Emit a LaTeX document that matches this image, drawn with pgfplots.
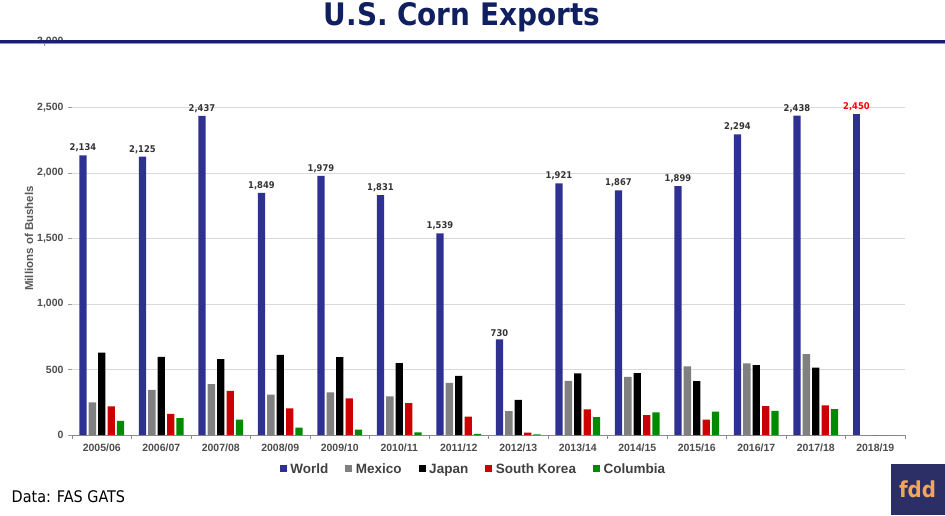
\documentclass[border=0pt]{standalone}
\usepackage{pgfplots}
\pgfplotsset{compat=1.18}
\usepackage{pgfplotstable}
\usepackage{fontspec}
\setmainfont{Liberation Sans}
\newfontfamily\tahoma{DejaVu Sans Condensed}
\definecolor{worldc}{HTML}{2F3192}
\definecolor{mexc}{HTML}{808080}
\definecolor{japc}{HTML}{000000}
\definecolor{korc}{HTML}{CC0000}
\definecolor{colc}{HTML}{008A00}
\definecolor{titlec}{HTML}{0F1F5F}
\definecolor{navyline}{HTML}{1A1F6E}
\definecolor{lightline}{HTML}{8A90C8}
\definecolor{tickc}{HTML}{595959}
\definecolor{legc}{HTML}{404040}
\definecolor{labc}{HTML}{333333}
\definecolor{logobg}{HTML}{2C2E66}
\definecolor{logofg}{HTML}{F2A65A}
\definecolor{gridc}{HTML}{D9D9D9}

\pgfplotstableread{
idx label World Mexico Japan SKorea Colombia
0 2005/06 2134 250 628 219 107
1 2006/07 2125 344 597 161 128
2 2007/08 2437 388 579 337 117
3 2008/09 1849 309 612 204 56
4 2009/10 1979 325 594 279 41
5 2010/11 1831 294 548 244 20
6 2011/12 1539 398 452 140 8
7 2012/13 730 183 269 18 5
8 2013/14 1921 414 470 195 137
9 2014/15 1867 444 472 152 173
10 2015/16 1899 523 411 117 178
11 2016/17 2294 546 533 221 185
12 2017/18 2438 617 515 226 198
13 2018/19 2450 0 0 0 0
}\datatable

\begin{document}
\begin{tikzpicture}
\useasboundingbox (0,0) rectangle (945pt,-515pt);
\begin{axis}[
  at={(72pt,-435pt)}, anchor=south west,
  scale only axis, width=833pt, height=393pt,
  ybar, bar width=7.3pt,
  xmin=-0.5, xmax=13.5, ymin=0, ymax=3000,
  enlargelimits=false,
  axis x line*=bottom, axis y line*=left,
  y axis line style={draw=none},
  x axis line style={draw=tickc!70, line width=0.8pt},
  xtick={0,...,13},
  xticklabels={2005/06,2006/07,2007/08,2008/09,2009/10,2010/11,2011/12,2012/13,2013/14,2014/15,2015/16,2016/17,2017/18,2018/19},
  minor xtick={-0.5,0.5,...,13.5},
  tick align=outside,
  major tick length=4pt, minor tick length=4pt,
  xtick style={draw=none},
  minor x tick style={draw=tickc!70, line width=0.6pt},
  ytick={0,500,...,3000},
  ytick style={draw=tickc!60, line width=0.6pt},
  ymajorgrids=true,
  grid style={draw=gridc, line width=0.8pt},
  /pgf/number format/.cd, 1000 sep={,}, assume math mode=true, /pgfplots/.cd,
  ticklabel style={font=\fontsize{10.5}{12}\selectfont\bfseries, text=tickc!85!black},
  xticklabel style={yshift=-1pt},
  yticklabel style={xshift=-1pt},
  ylabel={Millions of Bushels},
  ylabel style={at={(axis description cs:-0.0516,0.5)}, anchor=center, font=\fontsize{11.5}{13}\selectfont\bfseries, text=tickc},
  legend columns=5,
  legend style={at={(axis description cs:0.482,-0.0895)}, anchor=center, draw=none, fill=none,
    font=\fontsize{13.5}{15}\selectfont\bfseries, text=legc,
    nodes={text height=9.7pt, text depth=2.9pt},
    /tikz/every even column/.append style={column sep=15pt},
    inner sep=0pt},
  legend image code/.code={\fill[#1] (0pt,-1.8pt) rectangle (7pt,5.2pt); \path (0pt,0pt) -- (8.5pt,0pt);},
  nodes near coords style={font=\tahoma\fontsize{9.3}{10}\selectfont\bfseries, inner sep=3pt},
]
\addplot[fill=worldc, draw=none, bar shift=-18.8pt,
  restrict x to domain=0:12,
  nodes near coords, every node near coord/.append style={text=labc}
  ] table[x=idx, y=World] {\datatable};
\addlegendentry{World}
\addplot[fill=mexc, draw=none, bar shift=-9.4pt] table[x=idx, y=Mexico] {\datatable};
\addlegendentry{Mexico}
\addplot[fill=japc, draw=none, bar shift=0pt] table[x=idx, y=Japan] {\datatable};
\addlegendentry{Japan}
\addplot[fill=korc, draw=none, bar shift=9.4pt] table[x=idx, y=SKorea] {\datatable};
\addlegendentry{South Korea}
\addplot[fill=colc, draw=none, bar shift=18.8pt] table[x=idx, y=Colombia] {\datatable};
\addlegendentry{Columbia}
\addplot[fill=worldc, draw=none, bar shift=-18.8pt, forget plot,
  restrict x to domain=13:13,
  nodes near coords, every node near coord/.append style={text=red}
  ] table[x=idx, y=World] {\datatable};
\end{axis}
% header line over the top of the axis
\draw[navyline, line width=2.7pt] (0pt,-41.3pt) -- (945pt,-41.3pt);
\draw[lightline, line width=0.8pt] (0pt,-43.4pt) -- (945pt,-43.4pt);
% title
\node[anchor=base, inner sep=0pt, text=titlec, font=\tahoma\fontsize{31}{33}\selectfont\bfseries] at (462pt,-25pt) {U.S. Corn Exports};
% source
\node[anchor=base west, inner sep=0pt, font=\tahoma\fontsize{16}{18}\selectfont] at (11.5pt,-502pt) {Data: FAS GATS};
% logo
\fill[logobg] (890.5pt,-464pt) rectangle (945pt,-515pt);
\node[anchor=center, inner sep=0pt, text=logofg, font=\tahoma\fontsize{22}{24}\selectfont\bfseries] at (917.5pt,-489pt) {fdd};
\end{tikzpicture}
\end{document}
